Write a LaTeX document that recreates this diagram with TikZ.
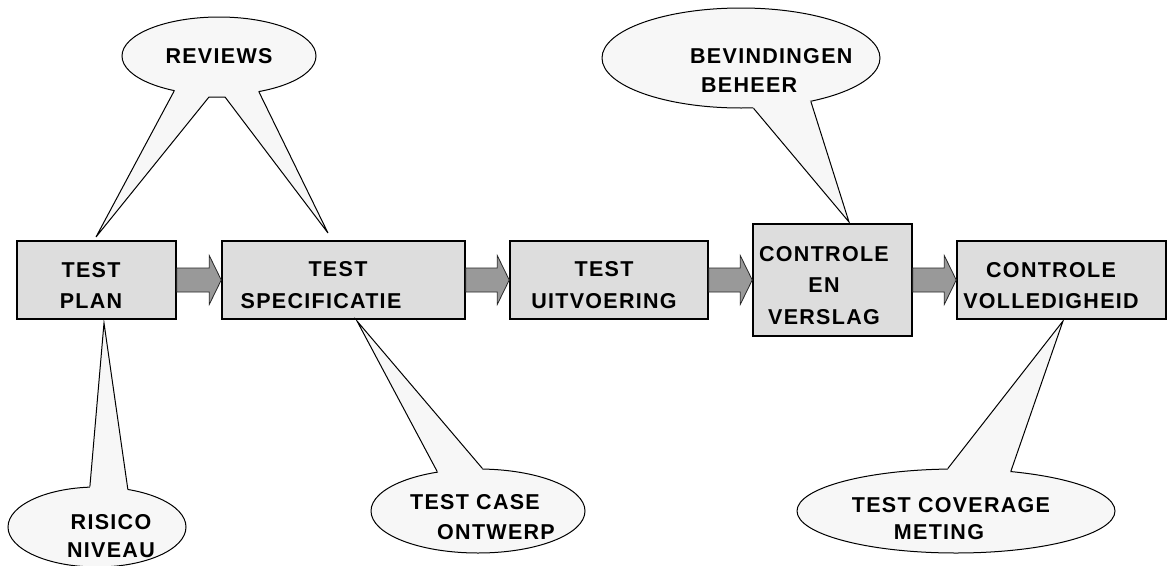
\documentclass[tikz,border=0pt]{standalone}
\usepackage{fontspec}
\newfontfamily\lblfont{Liberation Sans}[LetterSpace=6]
\usetikzlibrary{shapes.geometric,calc}
\definecolor{boxgray}{HTML}{DDDDDD}
\definecolor{arrgray}{HTML}{999999}
\definecolor{callfill}{HTML}{F7F7F7}
\newcommand\blockarrow[2]{%
  \draw[blockarrow] let \p1=(#1.east), \p2=(#2.west) in
    (\x1,\y1+12pt) -- (\x2-12pt,\y1+12pt) -- (\x2-12pt,\y1+24.5pt) -- (\x2,\y1)
    -- (\x2-12pt,\y1-24.5pt) -- (\x2-12pt,\y1-12pt) -- (\x1,\y1-12pt) -- cycle;}
\begin{document}
\begin{tikzpicture}[x=1pt,y=-1pt,
  box/.style={draw=black, line width=1.5pt, fill=boxgray, rectangle, inner sep=0pt},
  lbl/.style={font=\lblfont\bfseries\fontsize{21.5}{31.5}\selectfont, align=center, inner sep=0pt},
  clbl/.style={align=center, inner sep=0pt},
  bubble/.style={ellipse, draw=black, line width=1pt, fill=callfill, inner sep=0pt},
  blockarrow/.style={draw=black!85, line width=0.8pt, fill=arrgray},
  tail/.style={draw=black, line width=1pt, line join=miter},
]
\useasboundingbox (0,0) rectangle (1170,565);

% process boxes
\node[box, minimum width=159pt, minimum height=78pt] (b1) at (96.5,280) {};
\node[box, minimum width=243pt, minimum height=78pt] (b2) at (343.5,280) {};
\node[box, minimum width=198pt, minimum height=78pt] (b3) at (609,280) {};
\node[box, minimum width=159pt, minimum height=112pt] (b4) at (832.5,280) {};
\node[box, minimum width=209pt, minimum height=78pt] (b5) at (1061.5,280) {};

% block arrows
\blockarrow{b1}{b2}
\blockarrow{b2}{b3}
\blockarrow{b3}{b4}
\blockarrow{b4}{b5}

% box labels
\node[lbl] (t1) at (91,285.5) {TEST\\PLAN};
\node[lbl] (t2) at (321,285) {\hspace*{34pt}TEST\\SPECIFICATIE};
\node[lbl] (t3) at (604,285) {TEST\\UITVOERING};
\node[lbl] (t4) at (824,285.5) {CONTROLE\\EN\\VERSLAG};
\node[lbl] (t5) at (1051,285.5) {CONTROLE\\VOLLEDIGHEID};

% callout bubbles
\node[bubble, minimum width=194pt, minimum height=78pt] (rev) at (219,56) {};
\node[bubble, minimum width=178pt, minimum height=80pt] (ris) at (97,527) {};
\node[bubble, minimum width=214pt, minimum height=84pt] (tc) at (478,511) {};
\node[bubble, minimum width=278pt, minimum height=100pt] (bev) at (741,58) {};
\node[bubble, minimum width=318pt, minimum height=84pt] (cov) at (956,511) {};

% tail tips
\coordinate (revA) at (96,237);
\coordinate (revB) at (328,233);
\coordinate (revN1) at (209,97);
\coordinate (revN2) at (225,97);
\coordinate (risT) at (104,323);
\coordinate (tcT) at (357,321);
\coordinate (bevT) at (849,222);
\coordinate (covT) at (1063,321);

% tails
\fill[callfill] (rev.218.8) -- (revA) -- (revN1) -- (revN2) -- (revB) -- (rev.318.5)
  -- ($(rev.center)!0.7!(rev.318.5)$) -- ($(rev.center)!0.7!(rev.218.8)$) -- cycle;
\draw[tail] (rev.218.8) -- (revA) -- (revN1) -- (revN2) -- (revB) -- (rev.318.5);

\fill[callfill] (ris.100.2) -- (risT) -- (ris.51.5)
  -- ($(ris.center)!0.7!(ris.51.5)$) -- ($(ris.center)!0.7!(ris.100.2)$) -- cycle;
\draw[tail] (ris.100.2) -- (risT) -- (ris.51.5);

\fill[callfill] (tc.136.5) -- (tcT) -- (tc.84.4)
  -- ($(tc.center)!0.7!(tc.84.4)$) -- ($(tc.center)!0.7!(tc.136.5)$) -- cycle;
\draw[tail] (tc.136.5) -- (tcT) -- (tc.84.4);

\fill[callfill] (bev.284) -- (bevT) -- (bev.328.2)
  -- ($(bev.center)!0.7!(bev.328.2)$) -- ($(bev.center)!0.7!(bev.284)$) -- cycle;
\draw[tail] (bev.284) -- (bevT) -- (bev.328.2);

\fill[callfill] (cov.101) -- (covT) -- (cov.36.2)
  -- ($(cov.center)!0.7!(cov.36.2)$) -- ($(cov.center)!0.7!(cov.101)$) -- cycle;
\draw[tail] (cov.101) -- (covT) -- (cov.36.2);

% callout labels
\node[clbl, font=\lblfont\bfseries\fontsize{21.5}{29}\selectfont] (trev) at (219,56) {REVIEWS};
\node[clbl, font=\lblfont\bfseries\fontsize{21.5}{28}\selectfont] (tris) at (111,536) {RISICO\\NIVEAU};
\node[clbl, font=\lblfont\bfseries\fontsize{21.5}{30}\selectfont] (ttc) at (475,517) {TEST CASE\\\hspace*{42pt}ONTWERP};
\node[clbl, align=left, anchor=west, font=\lblfont\bfseries\fontsize{21.5}{29}\selectfont] (tbev) at (690,70.5) {BEVINDINGEN\\\hspace*{11pt}BEHEER};
\node[clbl, font=\lblfont\bfseries\fontsize{21.5}{27}\selectfont] (tcov) at (951,518.5) {TEST COVERAGE\\\hspace*{-24pt}METING};
\end{tikzpicture}
\end{document}
